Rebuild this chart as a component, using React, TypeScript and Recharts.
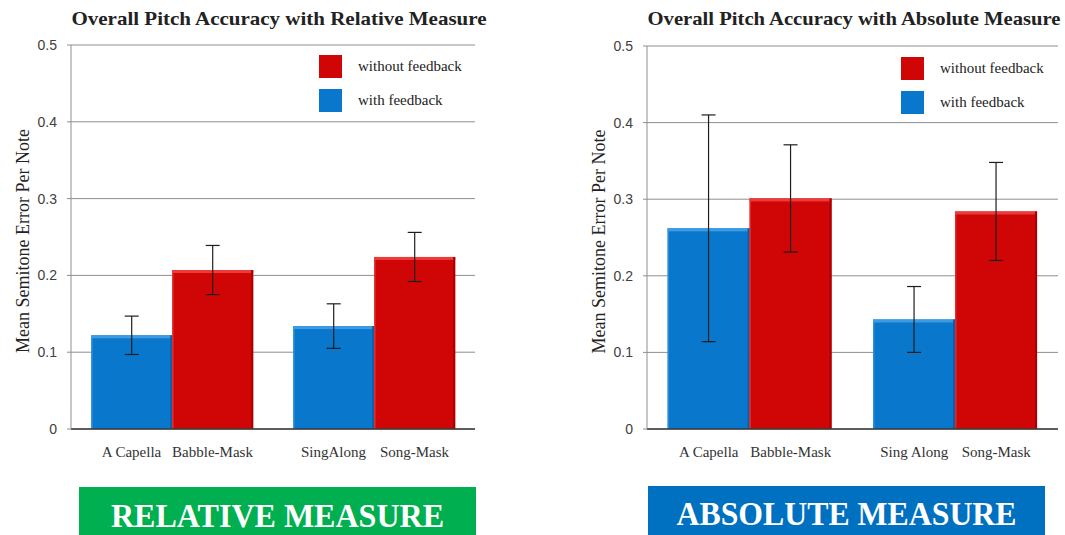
import React from "react";
import {
  Bar,
  BarChart,
  CartesianGrid,
  ErrorBar,
  Legend,
  XAxis,
  YAxis,
} from "recharts";

// two groups per chart, each with a "with" (blue) and "without" (red) bar
const groupKeys = ["first", "second"];
const relLabels = [
  ["A Capella", "Babble-Mask"],
  ["SingAlong", "Song-Mask"],
];
const absLabels = [
  ["A Capella", "Babble-Mask"],
  ["Sing Along", "Song-Mask"],
];

const relWith = [0.122, 0.134];
const relWithErr = [0.025, 0.029];
const relWithout = [0.207, 0.224];
const relWithoutErr = [0.032, 0.032];

const absWith = [0.262, 0.143];
const absWithErr = [0.148, 0.043];
const absWithout = [0.301, 0.284];
const absWithoutErr = [0.07, 0.064];

const yTicks = [0, 0.1, 0.2, 0.3, 0.4, 0.5];
const seriesNames = { with: "with feedback", without: "without feedback" };

const BLUE = "#0877cc";
const RED = "#d00606";
const SERIF = "'Liberation Serif', 'Times New Roman', serif";
const SANS = "'Liberation Sans', Arial, sans-serif";

function buildRows(w: number[], we: number[], wo: number[], woe: number[]) {
  return groupKeys.map((g, i) => ({
    group: g,
    withFb: w[i],
    withErr: we[i],
    withoutFb: wo[i],
    withoutErr: woe[i],
  }));
}

function BevelBar(props: any) {
  const { x, y, width, height, light, dark, base } = props;
  if (!height || height <= 0) return null;
  return (
    <g>
      <rect x={x} y={y} width={width} height={height} fill={base} />
      <rect x={x} y={y} width={width} height={3} fill={light} />
      <rect x={x} y={y} width={1.5} height={height} fill={light} opacity={0.6} />
      <rect x={x + width - 2} y={y} width={2} height={height} fill={dark} />
    </g>
  );
}

function PairTick(props: any) {
  const { x, y, payload, labels, half } = props;
  const pair: string[] = labels[payload.index] ?? [];
  return (
    <g>
      {pair.map((t, k) => (
        <text
          key={k}
          x={x + (k === 0 ? -half : half)}
          y={y + 23}
          textAnchor="middle"
          dominantBaseline="central"
          fontFamily={SERIF}
          fontSize={15}
          fill="#333"
        >
          {t}
        </text>
      ))}
    </g>
  );
}

function LegendBox({ payload }: any) {
  // red ("without") is listed first in the reference
  const items = [...(payload ?? [])].reverse();
  return (
    <div style={{ fontFamily: SERIF, fontSize: 15, color: "#222" }}>
      {items.map((it: any) => (
        <div
          key={it.value}
          style={{ display: "flex", alignItems: "center", height: 23, marginBottom: 11 }}
        >
          <span
            style={{ width: 23, height: 23, background: it.color, display: "inline-block" }}
          />
          <span style={{ marginLeft: 16, whiteSpace: "nowrap" }}>{it.value}</span>
        </div>
      ))}
    </div>
  );
}

function Panel({
  left,
  top,
  right,
  width,
  rows,
  labels,
  half,
  legendPos,
}: {
  left: number;
  top: number;
  right: number;
  width: number;
  rows: any[];
  labels: string[][];
  half: number;
  legendPos: { left: number; top: number };
}) {
  return (
    <div style={{ position: "absolute", left, top: 0 }}>
      <BarChart
        width={width}
        height={480}
        data={rows}
        margin={{ top, right, bottom: 0, left: 0 }}
        barCategoryGap="10%"
        barGap={0}
      >
        <CartesianGrid vertical={false} stroke="#8f8f8f" />
        <XAxis
          dataKey="group"
          height={51}
          tickLine={false}
          tickSize={0}
          tickMargin={0}
          axisLine={{ stroke: "#3a3a3a", strokeWidth: 1.5 }}
          tick={<PairTick labels={labels} half={half} />}
        />
        <YAxis
          type="number"
          domain={[0, 0.5]}
          ticks={yTicks}
          width={71}
          tickSize={4}
          tickMargin={10}
          axisLine={{ stroke: "#8f8f8f" }}
          tickLine={{ stroke: "#8f8f8f" }}
          tick={{ fontSize: 14, fill: "#404040", fontFamily: SANS }}
          tickFormatter={(v: number) => String(v)}
          label={(p: any) => {
            const vb = p.viewBox;
            const cy = vb.y + vb.height / 2 + 4;
            return (
              <text
                transform={`translate(23,${cy}) rotate(-90)`}
                textAnchor="middle"
                dominantBaseline="central"
                fontFamily={SERIF}
                fontSize={18}
                fill="#222"
              >
                Mean Semitone Error Per Note
              </text>
            );
          }}
        />
        <Legend
          layout="vertical"
          align="center"
          verticalAlign="middle"
          content={<LegendBox />}
          wrapperStyle={{ left: legendPos.left, top: legendPos.top, width: 170, height: 60 }}
        />
        <Bar
          dataKey="withFb"
          name={seriesNames.with}
          fill={BLUE}
          isAnimationActive={false}
          shape={(p: any) => <BevelBar {...p} base={BLUE} light="#3d9be3" dark="#0a5fa6" />}
        >
          <ErrorBar dataKey="withErr" width={7} stroke="#1e1e1e" strokeWidth={1.2} isAnimationActive={false} />
        </Bar>
        <Bar
          dataKey="withoutFb"
          name={seriesNames.without}
          fill={RED}
          isAnimationActive={false}
          shape={(p: any) => <BevelBar {...p} base={RED} light="#ec3b3b" dark="#a80000" />}
        >
          <ErrorBar dataKey="withoutErr" width={7} stroke="#1e1e1e" strokeWidth={1.2} isAnimationActive={false} />
        </Bar>
      </BarChart>
    </div>
  );
}

function Banner({
  left,
  top,
  width,
  height,
  color,
  text,
  textWidth,
  baseline,
}: {
  left: number;
  top: number;
  width: number;
  height: number;
  color: string;
  text: string;
  textWidth: number;
  baseline: number;
}) {
  return (
    <svg
      width={width}
      height={height}
      style={{ position: "absolute", left, top, display: "block" }}
    >
      <rect width={width} height={height} fill={color} />
      <text
        x={width / 2}
        y={baseline}
        textAnchor="middle"
        fontFamily={SERIF}
        fontWeight="bold"
        fontSize={33}
        fill="#fff"
        textLength={textWidth}
        lengthAdjust="spacingAndGlyphs"
      >
        {text}
      </text>
    </svg>
  );
}

export default function App() {
  const relRows = buildRows(relWith, relWithErr, relWithout, relWithoutErr);
  const absRows = buildRows(absWith, absWithErr, absWithout, absWithoutErr);

  return (
    <div
      style={{
        position: "absolute",
        left: 0,
        top: 0,
        width: 1065,
        height: 535,
        background: "#fff",
        overflow: "hidden",
      }}
    >
      <svg width={1065} height={40} style={{ position: "absolute", left: 0, top: 0 }}>
        <text
          x={279}
          y={25}
          textAnchor="middle"
          fontFamily={SERIF}
          fontWeight="bold"
          fontSize={19}
          fill="#222"
          textLength={415}
          lengthAdjust="spacingAndGlyphs"
        >
          Overall Pitch Accuracy with Relative Measure
        </text>
        <text
          x={854}
          y={25}
          textAnchor="middle"
          fontFamily={SERIF}
          fontWeight="bold"
          fontSize={19}
          fill="#222"
          textLength={413}
          lengthAdjust="spacingAndGlyphs"
        >
          Overall Pitch Accuracy with Absolute Measure
        </text>
      </svg>

      <Panel
        left={0}
        top={45}
        right={15}
        width={490}
        rows={relRows}
        labels={relLabels}
        half={40.5}
        legendPos={{ left: 319, top: 55 }}
      />
      <Panel
        left={576}
        top={46}
        right={7}
        width={489}
        rows={absRows}
        labels={absLabels}
        half={41}
        legendPos={{ left: 325, top: 57 }}
      />

      <Banner
        left={79}
        top={487}
        width={397}
        height={48}
        color="#00af50"
        text="RELATIVE MEASURE"
        textWidth={333}
        baseline={40}
      />
      <Banner
        left={648}
        top={486}
        width={397}
        height={49}
        color="#0070c0"
        text="ABSOLUTE MEASURE"
        textWidth={340}
        baseline={39}
      />
    </div>
  );
}
